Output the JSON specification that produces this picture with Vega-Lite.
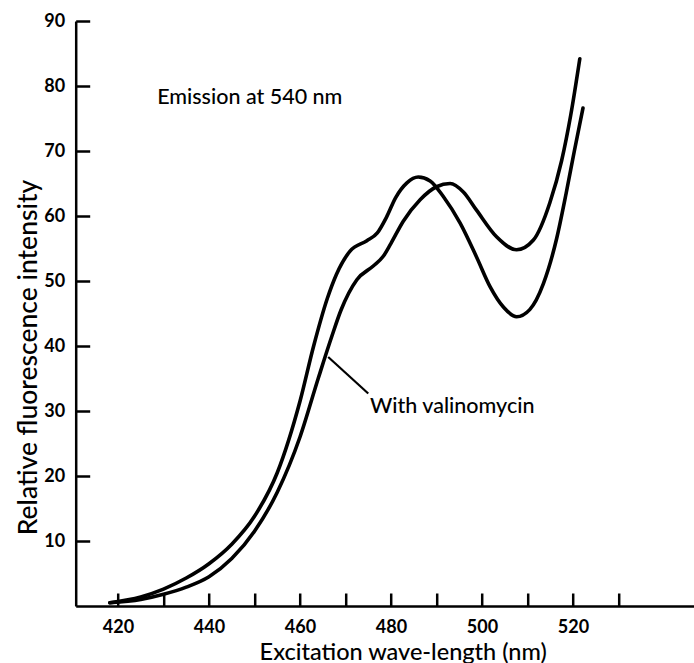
{
  "$schema": "https://vega.github.io/schema/vega-lite/v6.json",
  "autosize": "none",
  "width": 618.3,
  "height": 585,
  "padding": {"left": 75.7, "top": 21, "right": 0, "bottom": 57},
  "background": "white",
  "config": {
    "view": {"stroke": null},
    "font": "Lato"
  },
  "datasets": {
    "curves": [
      {"series": "Control", "nm": 418.2, "v": 0.5},
      {"series": "Control", "nm": 425.0, "v": 1.4},
      {"series": "Control", "nm": 430.0, "v": 2.6},
      {"series": "Control", "nm": 435.0, "v": 4.3},
      {"series": "Control", "nm": 440.0, "v": 6.5},
      {"series": "Control", "nm": 445.0, "v": 9.5},
      {"series": "Control", "nm": 450.0, "v": 13.8},
      {"series": "Control", "nm": 455.0, "v": 20.5},
      {"series": "Control", "nm": 460.0, "v": 31.5},
      {"series": "Control", "nm": 463.0, "v": 40.0},
      {"series": "Control", "nm": 466.0, "v": 47.3},
      {"series": "Control", "nm": 468.0, "v": 51.0},
      {"series": "Control", "nm": 471.0, "v": 54.6},
      {"series": "Control", "nm": 474.7, "v": 56.2},
      {"series": "Control", "nm": 477.0, "v": 57.4},
      {"series": "Control", "nm": 479.0, "v": 59.8},
      {"series": "Control", "nm": 481.0, "v": 62.8},
      {"series": "Control", "nm": 483.5, "v": 65.1},
      {"series": "Control", "nm": 486.0, "v": 66.0},
      {"series": "Control", "nm": 488.6, "v": 65.4},
      {"series": "Control", "nm": 491.5, "v": 63.0},
      {"series": "Control", "nm": 495.2, "v": 58.9},
      {"series": "Control", "nm": 498.8, "v": 53.7},
      {"series": "Control", "nm": 501.8, "v": 49.1},
      {"series": "Control", "nm": 504.7, "v": 46.0},
      {"series": "Control", "nm": 507.6, "v": 44.5},
      {"series": "Control", "nm": 510.5, "v": 45.6},
      {"series": "Control", "nm": 513.5, "v": 49.6},
      {"series": "Control", "nm": 516.4, "v": 56.5},
      {"series": "Control", "nm": 518.5, "v": 63.5},
      {"series": "Control", "nm": 520.3, "v": 70.0},
      {"series": "Control", "nm": 522.2, "v": 76.6},
      {"series": "Valinomycin", "nm": 418.2, "v": 0.5},
      {"series": "Valinomycin", "nm": 425.0, "v": 1.0},
      {"series": "Valinomycin", "nm": 430.0, "v": 1.8},
      {"series": "Valinomycin", "nm": 435.0, "v": 2.9},
      {"series": "Valinomycin", "nm": 440.0, "v": 4.5},
      {"series": "Valinomycin", "nm": 445.0, "v": 7.3},
      {"series": "Valinomycin", "nm": 450.0, "v": 11.5},
      {"series": "Valinomycin", "nm": 455.0, "v": 17.5},
      {"series": "Valinomycin", "nm": 460.0, "v": 26.0},
      {"series": "Valinomycin", "nm": 464.0, "v": 35.0},
      {"series": "Valinomycin", "nm": 467.0, "v": 41.5},
      {"series": "Valinomycin", "nm": 469.0, "v": 45.5},
      {"series": "Valinomycin", "nm": 472.5, "v": 50.2},
      {"series": "Valinomycin", "nm": 476.1, "v": 52.3},
      {"series": "Valinomycin", "nm": 478.3, "v": 53.8},
      {"series": "Valinomycin", "nm": 480.0, "v": 55.8},
      {"series": "Valinomycin", "nm": 482.7, "v": 59.2},
      {"series": "Valinomycin", "nm": 486.4, "v": 62.5},
      {"series": "Valinomycin", "nm": 490.0, "v": 64.5},
      {"series": "Valinomycin", "nm": 493.0, "v": 65.0},
      {"series": "Valinomycin", "nm": 495.9, "v": 63.7},
      {"series": "Valinomycin", "nm": 498.8, "v": 60.9},
      {"series": "Valinomycin", "nm": 503.2, "v": 56.8},
      {"series": "Valinomycin", "nm": 507.6, "v": 54.8},
      {"series": "Valinomycin", "nm": 511.3, "v": 56.3},
      {"series": "Valinomycin", "nm": 514.9, "v": 62.0},
      {"series": "Valinomycin", "nm": 517.5, "v": 68.5},
      {"series": "Valinomycin", "nm": 519.5, "v": 75.5},
      {"series": "Valinomycin", "nm": 521.5, "v": 84.2}
    ],
    "notes": [
      {"nm": 428.6, "v": 78.2, "text": "Emission at 540 nm"},
      {"nm": 475.4, "v": 30.6, "text": "With valinomycin"}
    ],
    "pointer": [
      {"nm": 466.2, "v": 38.3, "nm2": 475.0, "v2": 32.7}
    ]
  },
  "layer": [
    {
      "data": {"name": "curves"},
      "mark": {"type": "line", "interpolate": "monotone", "color": "black", "strokeWidth": 3.6, "strokeCap": "round"},
      "encoding": {
        "x": {
          "field": "nm", "type": "quantitative",
          "scale": {"domain": [410.7, 546.6], "nice": false, "zero": false},
          "axis": {
            "title": "Excitation wave-length (nm)",
            "values": [420, 430, 440, 450, 460, 470, 480, 490, 500, 510, 520, 530],
            "labelExpr": "datum.value % 20 == 0 ? datum.label : ''",
            "grid": false,
            "domainColor": "black", "domainWidth": 2.5,
            "tickColor": "black", "tickWidth": 2.5, "tickSize": -13,
            "labelFont": "Lato", "labelFontSize": 18, "labelFontWeight": "bold", "labelColor": "black",
            "labelPadding": 25,
            "titleFont": "Lato", "titleFontSize": 23.5, "titleFontWeight": 500, "titleColor": "black",
            "titleX": 327, "titleY": 53, "titleBaseline": "alphabetic", "titleAnchor": "middle"
          }
        },
        "y": {
          "field": "v", "type": "quantitative",
          "scale": {"domain": [0, 90], "nice": false},
          "axis": {
            "title": "Relative fluorescence intensity",
            "values": [10, 20, 30, 40, 50, 60, 70, 80, 90],
            "grid": false,
            "domainColor": "black", "domainWidth": 2.5,
            "tickColor": "black", "tickWidth": 2.5, "tickSize": -14,
            "labelFont": "Lato", "labelFontSize": 18, "labelFontWeight": "bold", "labelColor": "black",
            "labelPadding": 25,
            "titleFont": "Lato", "titleFontSize": 26.5, "titleFontWeight": 500, "titleColor": "black",
            "titleX": -47, "titleY": 336, "titleBaseline": "middle", "titleAnchor": "middle"
          }
        },
        "detail": {"field": "series", "type": "nominal"}
      }
    },
    {
      "data": {"name": "pointer"},
      "mark": {"type": "rule", "color": "black", "strokeWidth": 2.2},
      "encoding": {
        "x": {"field": "nm", "type": "quantitative"},
        "y": {"field": "v", "type": "quantitative"},
        "x2": {"field": "nm2"},
        "y2": {"field": "v2"}
      }
    },
    {
      "data": {"name": "notes"},
      "mark": {"type": "text", "align": "left", "baseline": "middle", "font": "Lato", "fontSize": 21.5, "fontWeight": 500, "color": "black"},
      "encoding": {
        "x": {"field": "nm", "type": "quantitative"},
        "y": {"field": "v", "type": "quantitative"},
        "text": {"field": "text"}
      }
    }
  ]
}
